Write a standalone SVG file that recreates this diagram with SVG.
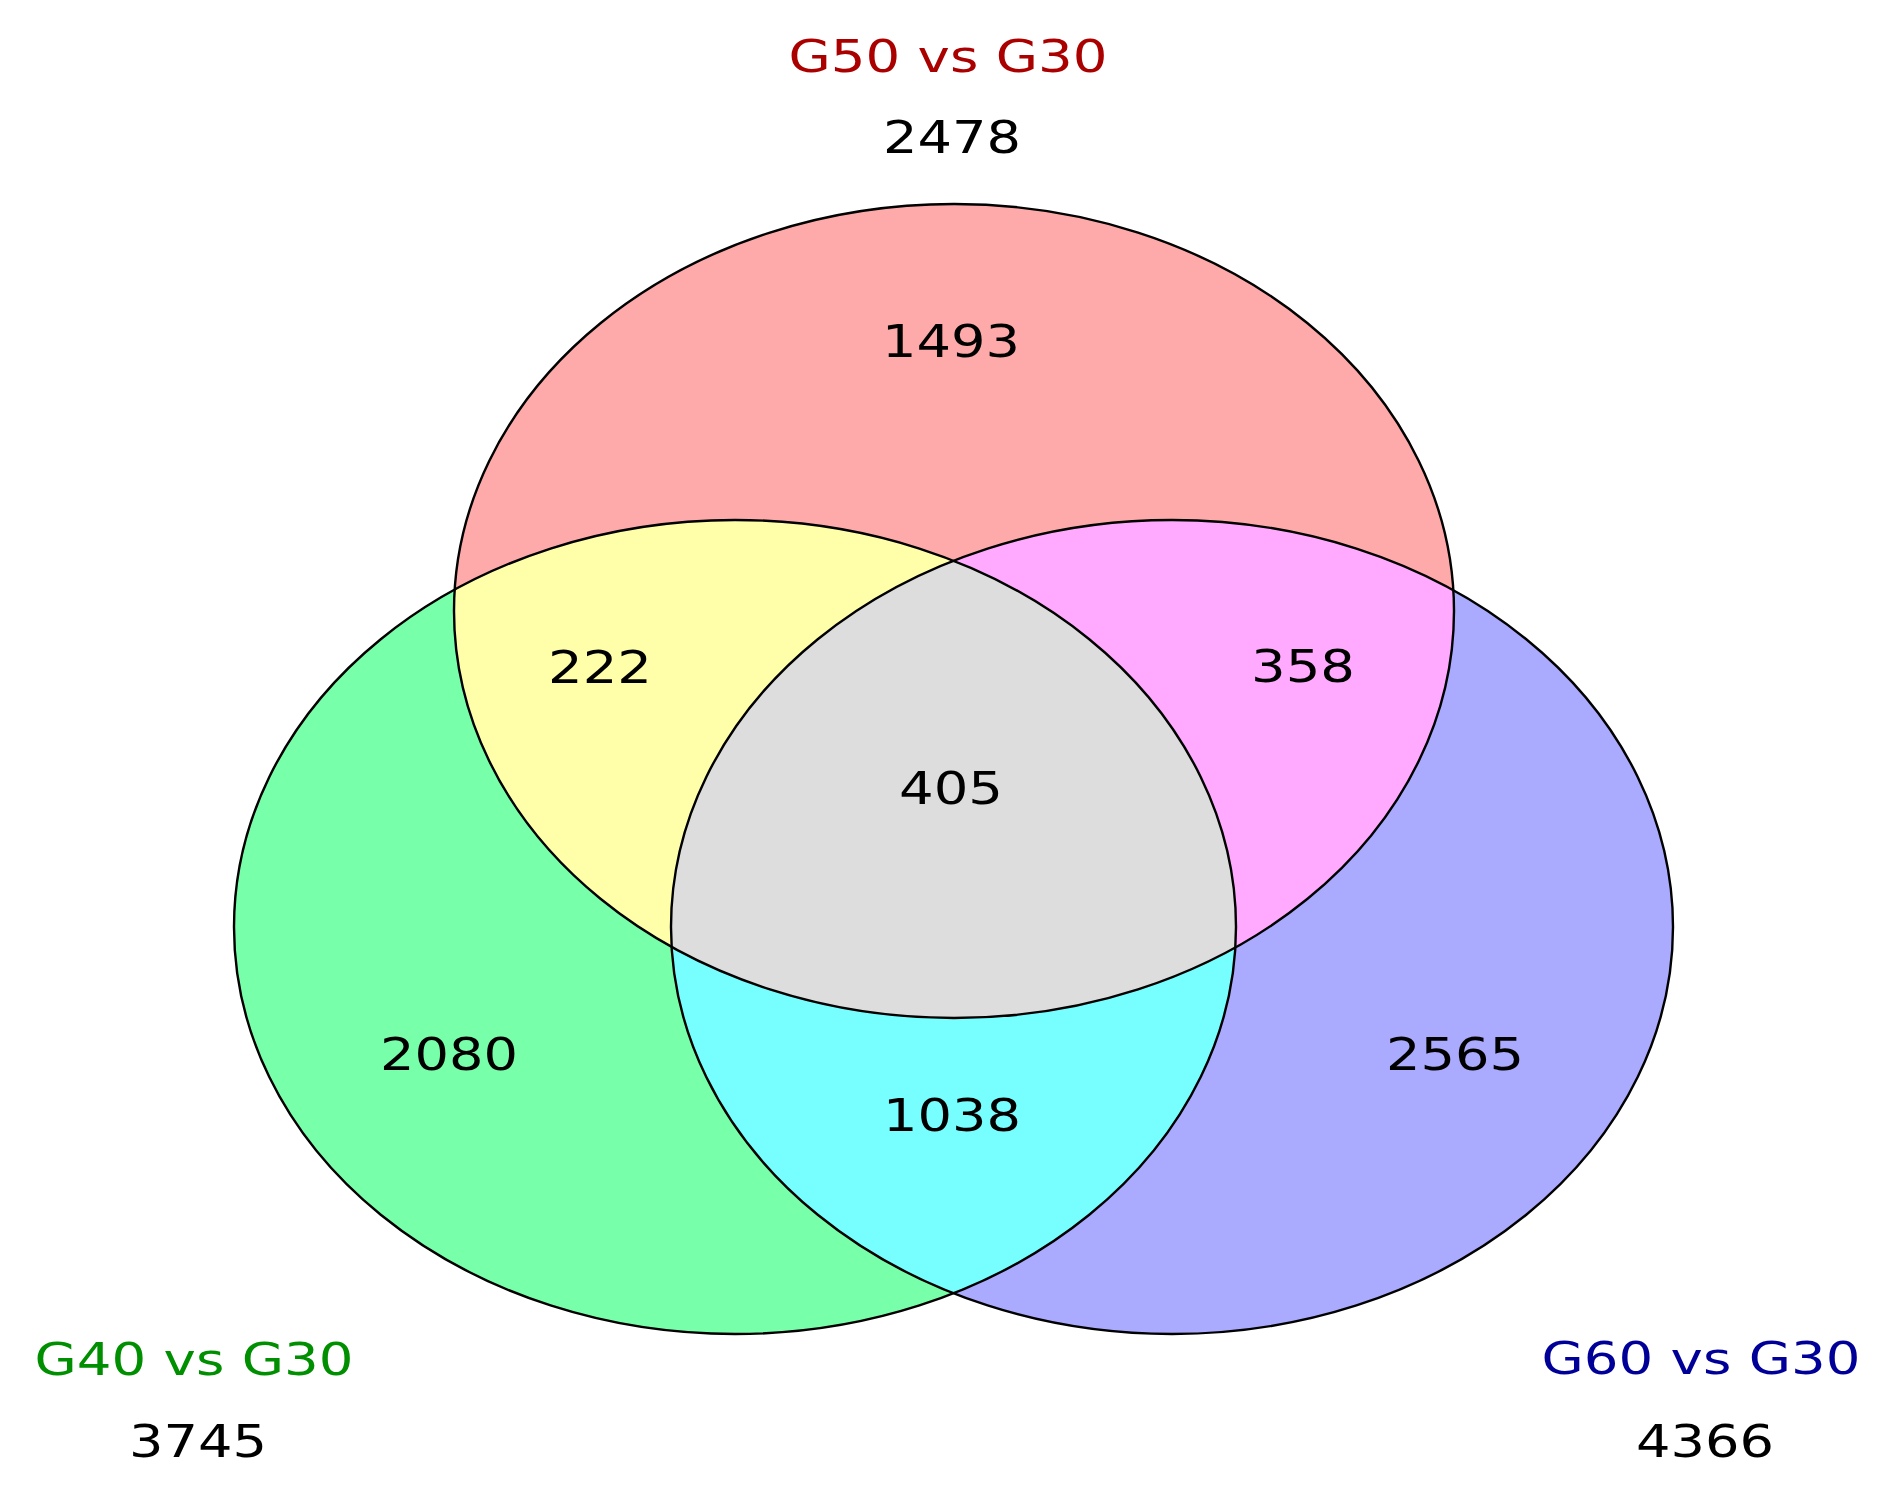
<svg xmlns="http://www.w3.org/2000/svg" width="1889" height="1502" viewBox="0 0 1889 1502">
<style>
.num{font-family:"DejaVu Sans","Liberation Sans",sans-serif;font-size:44px;fill:#000;text-anchor:middle}
.lbl{font-family:"DejaVu Sans","Liberation Sans",sans-serif;font-size:44px;text-anchor:middle}
.edge{fill:none;stroke:#000;stroke-width:2.4}
</style>
<defs>
<clipPath id="cR"><ellipse cx="954" cy="611" rx="500" ry="407"/></clipPath>
<clipPath id="cG"><ellipse cx="735" cy="927" rx="501" ry="407"/></clipPath>
</defs>
<rect width="1889" height="1502" fill="#fff"/>
<g id="set-G50">
<ellipse cx="954" cy="611" rx="500" ry="407" fill="#FFAAAA"/>
</g>
<g id="set-G40">
<ellipse cx="735" cy="927" rx="501" ry="407" fill="#77FFAA"/>
</g>
<g id="set-G60">
<ellipse cx="1172" cy="927" rx="501" ry="407" fill="#AAAAFF"/>
</g>
<g id="overlap-G50-G40">
<ellipse cx="735" cy="927" rx="501" ry="407" fill="#FFFFAA" clip-path="url(#cR)"/>
</g>
<g id="overlap-G50-G60">
<ellipse cx="1172" cy="927" rx="501" ry="407" fill="#FFAAFF" clip-path="url(#cR)"/>
</g>
<g id="overlap-G40-G60">
<ellipse cx="1172" cy="927" rx="501" ry="407" fill="#77FFFF" clip-path="url(#cG)"/>
</g>
<g id="overlap-all" clip-path="url(#cR)">
<ellipse cx="1172" cy="927" rx="501" ry="407" fill="#DDDDDD" clip-path="url(#cG)"/>
</g>
<g id="outlines">
<ellipse class="edge" cx="954" cy="611" rx="500" ry="407"/>
<ellipse class="edge" cx="735" cy="927" rx="501" ry="407"/>
<ellipse class="edge" cx="1172" cy="927" rx="501" ry="407"/>
</g>
<g id="labels">
<text class="lbl" x="948" y="72" fill="#AA0000" textLength="319" lengthAdjust="spacingAndGlyphs">G50 vs G30</text>
<text class="num" x="952" y="153" textLength="138" lengthAdjust="spacingAndGlyphs">2478</text>
<text class="lbl" x="194" y="1375" fill="#008F00" textLength="319" lengthAdjust="spacingAndGlyphs">G40 vs G30</text>
<text class="num" x="198" y="1457" textLength="138" lengthAdjust="spacingAndGlyphs">3745</text>
<text class="lbl" x="1701" y="1374" fill="#000099" textLength="319" lengthAdjust="spacingAndGlyphs">G60 vs G30</text>
<text class="num" x="1705" y="1457" textLength="138" lengthAdjust="spacingAndGlyphs">4366</text>
</g>
<g id="counts">
<text class="num" x="951" y="357" textLength="138" lengthAdjust="spacingAndGlyphs">1493</text>
<text class="num" x="600" y="683" textLength="104" lengthAdjust="spacingAndGlyphs">222</text>
<text class="num" x="1303" y="682" textLength="104" lengthAdjust="spacingAndGlyphs">358</text>
<text class="num" x="951" y="804" textLength="104" lengthAdjust="spacingAndGlyphs">405</text>
<text class="num" x="449" y="1070" textLength="138" lengthAdjust="spacingAndGlyphs">2080</text>
<text class="num" x="952" y="1131" textLength="138" lengthAdjust="spacingAndGlyphs">1038</text>
<text class="num" x="1455" y="1070" textLength="138" lengthAdjust="spacingAndGlyphs">2565</text>
</g>
</svg>
